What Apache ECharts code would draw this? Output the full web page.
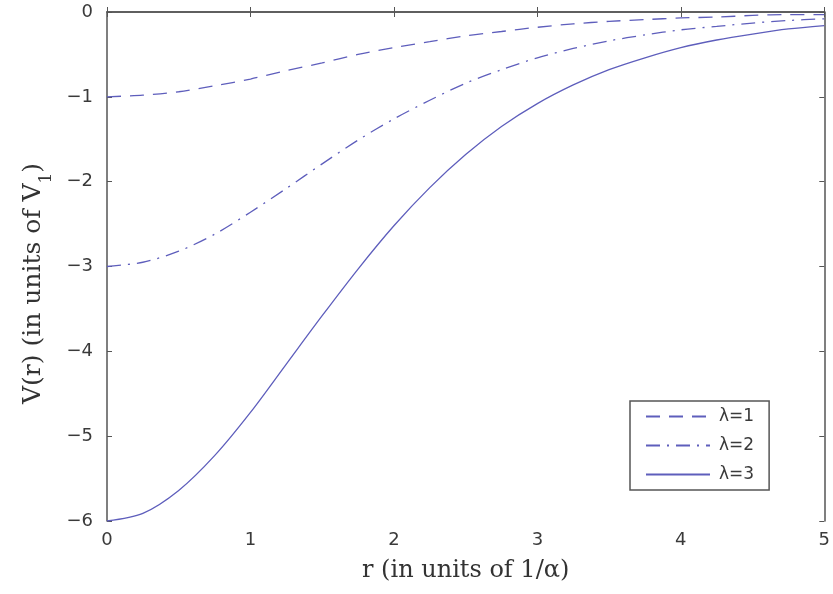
<!DOCTYPE html>
<html>
<head>
<meta charset="utf-8">
<script src="https://cdn.jsdelivr.net/npm/echarts@6/dist/echarts.min.js"></script>
<style>
html, body { margin: 0; padding: 0; background: #fff; }
#chart { width: 833px; height: 594px; }
</style>
</head>
<body>
<div id="chart"></div>
<script>
// r values (in units of 1/alpha)
var rVals = [0, 0.25, 0.5, 0.75, 1, 1.25, 1.5, 1.75, 2, 2.25, 2.5, 2.75, 3, 3.25, 3.5, 3.75, 4, 4.25, 4.5, 4.75, 5];

// V(r)
var lambda1 = [-1.00, -0.98, -0.94, -0.87, -0.79, -0.69, -0.60, -0.50, -0.42, -0.35, -0.28, -0.23, -0.18, -0.14, -0.11, -0.09, -0.07, -0.06, -0.04, -0.03, -0.03];
var lambda2 = [-3.00, -2.95, -2.82, -2.62, -2.36, -2.08, -1.79, -1.51, -1.26, -1.04, -0.84, -0.68, -0.54, -0.43, -0.34, -0.27, -0.21, -0.17, -0.13, -0.10, -0.08];
var lambda3 = [-6.00, -5.91, -5.64, -5.23, -4.72, -4.15, -3.58, -3.03, -2.52, -2.07, -1.68, -1.35, -1.08, -0.86, -0.68, -0.54, -0.42, -0.33, -0.26, -0.20, -0.16];

var seriesNames = ["\u03bb=1", "\u03bb=2", "\u03bb=3"];

var lineColor = "#5e5ebc";
var frameColor = "#555";

function pairs(ys) {
  return rVals.map(function (r, i) { return [r, ys[i]]; });
}

function mkSeries(name, ys, dash) {
  return {
    name: name,
    type: "line",
    data: pairs(ys),
    smooth: 0.3,
    symbol: "none",
    xAxisIndex: 0,
    yAxisIndex: 0,
    itemStyle: { color: lineColor },
    lineStyle: { color: lineColor, width: 1.3, type: dash },
    animation: false
  };
}

var tickFont = {
  fontFamily: "DejaVu Sans",
  fontSize: 18,
  color: "#3a3a3a"
};

var chart = echarts.init(document.getElementById("chart"));

chart.setOption({
  backgroundColor: "#ffffff",
  grid: { left: 107, right: 5, top: 12, bottom: 73 },
  legend: {
    orient: "vertical",
    left: 630,
    top: 401,
    data: seriesNames,
    itemWidth: 64,
    itemHeight: 14,
    itemGap: 12,
    padding: [7, 15, 7, 15],
    borderColor: frameColor,
    borderWidth: 1.5,
    backgroundColor: "#fff",
    itemStyle: { opacity: 0 },
    textStyle: { fontFamily: "DejaVu Sans", fontSize: 17, color: "#3a3a3a", padding: [0, 0, 0, 4] }
  },
  xAxis: [
    {
      type: "value",
      position: "bottom",
      min: 0,
      max: 5,
      interval: 1,
      name: "r (in units of 1/\u03b1)",
      nameLocation: "middle",
      nameGap: 38,
      nameTextStyle: { fontFamily: "DejaVu Serif", fontSize: 24, color: "#333" },
      axisLine: { show: true, lineStyle: { color: frameColor, width: 1.5 } },
      axisTick: { inside: true, length: 5, lineStyle: { color: frameColor } },
      axisLabel: Object.assign({ margin: 10 }, tickFont),
      splitLine: { show: false }
    },
    {
      type: "value",
      position: "top",
      min: 0,
      max: 5,
      interval: 1,
      axisLine: { show: true, onZero: false, lineStyle: { color: frameColor, width: 1.5 } },
      axisTick: { inside: true, length: 5, lineStyle: { color: frameColor } },
      axisLabel: { show: false },
      splitLine: { show: false }
    }
  ],
  yAxis: [
    {
      type: "value",
      position: "left",
      min: -6,
      max: 0,
      interval: 1,
      name: "V(r) (in units of V{sub|1})",
      nameLocation: "middle",
      nameGap: 60,
      nameTextStyle: {
        fontFamily: "DejaVu Serif",
        fontSize: 25,
        color: "#333",
        padding: [0, 34, 0, 0],
        rich: {
          sub: { fontFamily: "DejaVu Serif", fontSize: 17, color: "#333", verticalAlign: "bottom", padding: [0, 0, -10, 0] }
        }
      },
      axisLine: { show: true, onZero: false, lineStyle: { color: frameColor, width: 1.5 } },
      axisTick: { inside: true, length: 5, lineStyle: { color: frameColor } },
      axisLabel: Object.assign({
        margin: 14,
        formatter: function (v) { return v < 0 ? "\u2212" + Math.abs(v) : String(v); }
      }, tickFont),
      splitLine: { show: false }
    },
    {
      type: "value",
      position: "right",
      min: -6,
      max: 0,
      interval: 1,
      axisLine: { show: true, onZero: false, lineStyle: { color: frameColor, width: 1.5 } },
      axisTick: { inside: true, length: 5, lineStyle: { color: frameColor } },
      axisLabel: { show: false },
      splitLine: { show: false }
    }
  ],
  series: [
    mkSeries(seriesNames[0], lambda1, [14, 9]),
    mkSeries(seriesNames[1], lambda2, [14, 7, 2, 7]),
    mkSeries(seriesNames[2], lambda3, "solid")
  ]
});
</script>
</body>
</html>
